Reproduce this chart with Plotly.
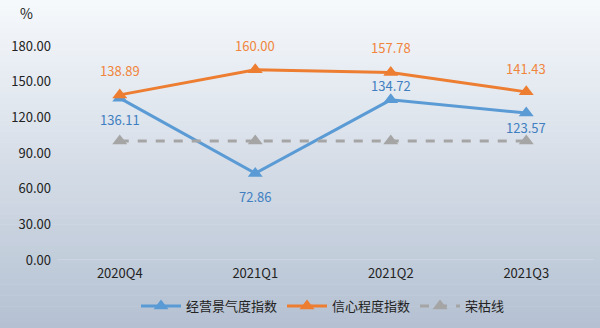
import plotly.graph_objects as go

categories = ["2020Q4", "2021Q1", "2021Q2", "2021Q3"]
business = [136.11, 72.86, 134.72, 123.57]
confidence = [138.89, 160.00, 157.78, 141.43]
boom_line = [100, 100, 100, 100]
y_ticks = [0, 30, 60, 90, 120, 150, 180]

# label offsets (pixels) relative to the points
business_label_shift = [21, 23, -14, 14]
confidence_label_shift = [-24, -24, -25, -23]

W, H = 600, 328
top, bottom_px = 46, 260
ml, mr = 52, 6

fig = go.Figure()

blue = "#5B9BD5"
orange = "#ED7D31"
gray = "#A5A5A5"
font_family = "Microsoft YaHei, Noto Sans CJK SC, sans-serif"

fig.add_trace(go.Scatter(
    x=categories, y=business, name="经营景气度指数", mode="lines+markers",
    line=dict(color=blue, width=3), marker=dict(symbol="triangle-up", size=13, color=blue),
    cliponaxis=False,
))
fig.add_trace(go.Scatter(
    x=categories, y=confidence, name="信心程度指数", mode="lines+markers",
    line=dict(color=orange, width=3), marker=dict(symbol="triangle-up", size=13, color=orange),
    cliponaxis=False,
))
fig.add_trace(go.Scatter(
    x=categories, y=boom_line, name="荣枯线", mode="lines+markers",
    line=dict(color=gray, width=3, dash="dash"), marker=dict(symbol="triangle-up", size=13, color=gray),
    cliponaxis=False,
))

annotations = []
for c, v, s in zip(categories, business, business_label_shift):
    annotations.append(dict(x=c, y=v, xref="x", yref="y", text=f"{v:.2f}", showarrow=False,
                            yshift=-s, font=dict(color="#3F7FC1", size=13, family=font_family)))
for c, v, s in zip(categories, confidence, confidence_label_shift):
    annotations.append(dict(x=c, y=v, xref="x", yref="y", text=f"{v:.2f}", showarrow=False,
                            yshift=-s, font=dict(color="#F0853C", size=13, family=font_family)))

ph = bottom_px - top
pw = W - ml - mr
annotations.append(dict(text="%", xref="paper", yref="paper",
                        x=(26 - ml) / pw, y=(bottom_px - 13) / ph, showarrow=False,
                        xanchor="center", yanchor="middle",
                        font=dict(size=14, color="#222222")))

# vertical gradient background
shapes = []
n = 60
c0 = (246, 249, 252)
c1 = (180, 193, 210)
for i in range(n):
    p0 = H * i / n
    p1 = H * (i + 1) / n + 0.6
    t = (i + 0.5) / n
    c = tuple(round(c0[k] + (c1[k] - c0[k]) * t) for k in range(3))
    shapes.append(dict(
        type="rect", xref="paper", yref="paper", layer="below",
        x0=-ml / pw - 0.01, x1=1 + mr / pw + 0.01,
        y0=(bottom_px - p1) / ph, y1=(bottom_px - p0) / ph,
        fillcolor="rgb(%d,%d,%d)" % c, line=dict(width=0),
    ))

fig.update_layout(
    width=W, height=H,
    margin=dict(l=ml, r=mr, t=top, b=H - bottom_px, autoexpand=False),
    paper_bgcolor="rgba(0,0,0,0)", plot_bgcolor="rgba(0,0,0,0)",
    font=dict(family=font_family, size=13, color="#222222"),
    shapes=shapes,
    showlegend=True,
    legend=dict(orientation="h", x=0.5, xanchor="center", y=(bottom_px - 291) / ph, yanchor="top",
                font=dict(size=13, color="#222222"), itemwidth=40, tracegroupgap=0,
                bgcolor="rgba(0,0,0,0)"),
    annotations=annotations,
)

fig.update_xaxes(showgrid=False, zeroline=False, showline=False, ticks="",
                 tickfont=dict(size=13, color="#222222"), range=[-0.5, 3.5],
                 ticklabelstandoff=4)
fig.update_yaxes(range=[0, 180], tickvals=y_ticks, ticktext=[f"{v:.2f}" for v in y_ticks],
                 showgrid=False, zeroline=False, showline=False, ticks="",
                 tickfont=dict(size=13, color="#222222"))

# zero baseline
fig.add_shape(type="line", xref="paper", yref="y", x0=0.01, x1=1, y0=0, y1=0,
              line=dict(color="#D6DCE5", width=1), layer="below")

fig.write_html("out.html")
